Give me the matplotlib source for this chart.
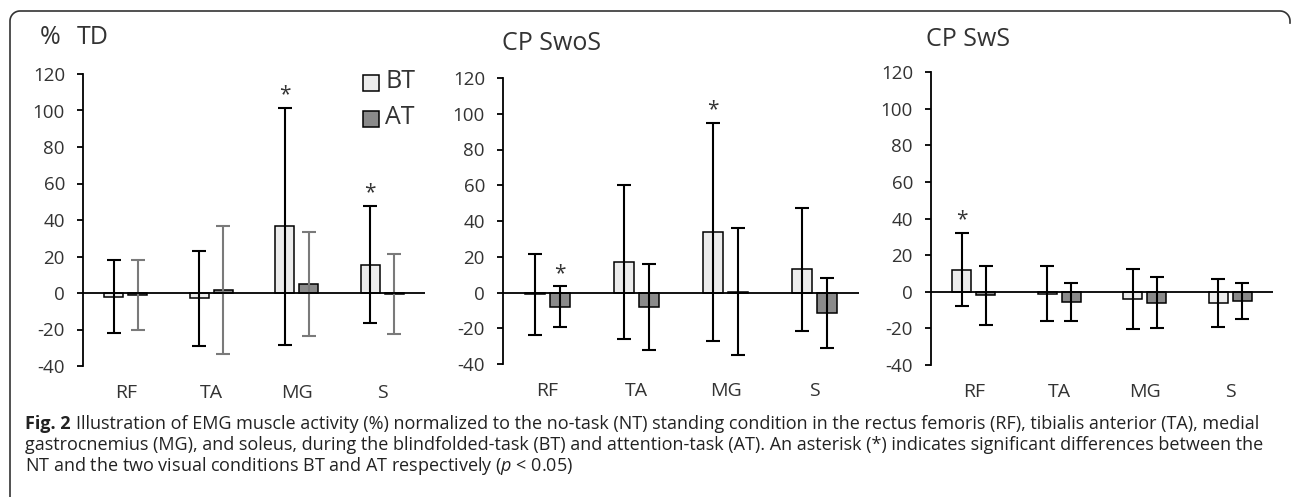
import numpy as np
import matplotlib
matplotlib.use("Agg")
import matplotlib.pyplot as plt
from matplotlib.lines import Line2D

plt.rcParams['font.family'] = ['Open Sans', 'DejaVu Sans']
plt.rcParams['axes.unicode_minus'] = False
plt.rcParams['mathtext.fontset'] = 'custom'
plt.rcParams['mathtext.rm'] = 'Open Sans'
plt.rcParams['mathtext.it'] = 'Open Sans:italic'

# Data (% of no-task condition)
muscles = ['RF', 'TA', 'MG', 'S']
panels = ['TD', 'CP SwoS', 'CP SwS']

td_bt = [-2, -3, 36.5, 15.5]
td_bt_sd = [20, 26, 65, 32]
td_at = [-1, 1.5, 5, -0.5]
td_at_sd = [19, 35, 28.5, 21.7]

swos_bt = [-1, 17, 34, 13]
swos_bt_sd = [22.8, 43, 61, 34.5]
swos_at = [-8, -8, 0.5, -11.5]
swos_at_sd = [11.4, 24, 35.5, 19.5]

sws_bt = [12, -1, -4, -6]
sws_bt_sd = [20, 15, 16.5, 13]
sws_at = [-2, -5.5, -6, -5]
sws_at_sd = [16, 10.5, 14, 10]

# significance markers: (panel index, series, muscle index)
stars = [(0, 'BT', 2), (0, 'BT', 3), (1, 'AT', 0), (1, 'BT', 2), (2, 'BT', 0)]

data = [(td_bt, td_bt_sd, td_at, td_at_sd),
        (swos_bt, swos_bt_sd, swos_at, swos_at_sd),
        (sws_bt, sws_bt_sd, sws_at, sws_at_sd)]

W, H = 1292, 497
fig = plt.figure(figsize=(W / 100, H / 100), dpi=100)

# axes boxes in pixels: left, right, y of 120, y of -40
boxes = [(83, 425, 74, 366), (503, 859, 78, 364), (931, 1273, 72, 365)]
title_pos = [(77, 38), (502, 43), (926, 40)]

bt_color = '#ececec'
at_color = '#8a8a8a'
txt = '#333333'
x = np.arange(len(muscles)) + 0.5
off = 0.14
bw = 0.22

for i, ax_box in enumerate(boxes):
    l, r, t, b = ax_box
    ax = fig.add_axes([l / W, 1 - b / H, (r - l) / W, (b - t) / H])
    bt, bt_sd, at, at_sd = data[i]
    ax.bar(x - off, bt, width=bw, color=bt_color, edgecolor='black', linewidth=1.1, zorder=2)
    ax.bar(x + off, at, width=bw, color=at_color, edgecolor='black', linewidth=1.1, zorder=2)
    ax.errorbar(x - off, bt, yerr=bt_sd, fmt='none', ecolor='black', elinewidth=1.5,
                capsize=5, capthick=1.5, zorder=3)
    at_err_color = '#7a7a7a' if i == 0 else 'black'
    ax.errorbar(x + off, at, yerr=at_sd, fmt='none', ecolor=at_err_color, elinewidth=1.5,
                capsize=5, capthick=1.5, zorder=3)
    ax.axhline(0, color='black', lw=1.3, zorder=4)

    for p, s, m in stars:
        if p != i:
            continue
        if s == 'BT':
            xs, top = x[m] - off, bt[m] + bt_sd[m]
        else:
            xs, top = x[m] + off, at[m] + at_sd[m]
        ax.text(xs, top + 1.5, '*', ha='center', va='bottom', fontsize=15, color=txt)

    ax.set_xlim(0, 4)
    ax.set_ylim(-40, 120)
    ax.set_yticks(range(-40, 121, 20))
    ax.set_xticks(x)
    ax.set_xticklabels(muscles)
    ax.tick_params(axis='x', length=0, pad=13, labelsize=14, labelcolor=txt)
    ax.tick_params(axis='y', length=4, width=1.3, direction='out', pad=9,
                   labelsize=13.5, labelcolor=txt)
    for sp in ['top', 'right', 'bottom']:
        ax.spines[sp].set_visible(False)
    ax.spines['left'].set_linewidth(1.3)
    ax.patch.set_alpha(0)

    tx, ty = title_pos[i]
    fig.text(tx / W, 1 - ty / H, panels[i], fontsize=18, color=txt, va='center', ha='left')

fig.text(40 / W, 1 - 38 / H, '%', fontsize=18, color=txt, va='center', ha='left')

# legend
fig.patches.append(plt.Rectangle((363 / W, 1 - 91 / H), 16 / W, 16 / H, transform=fig.transFigure,
                                 facecolor=bt_color, edgecolor='black', lw=1.1))
fig.patches.append(plt.Rectangle((363 / W, 1 - 127 / H), 16 / W, 16 / H, transform=fig.transFigure,
                                 facecolor=at_color, edgecolor='black', lw=1.1))
fig.text(385 / W, 1 - 82 / H, 'BT', fontsize=18, color=txt, va='center')
fig.text(385 / W, 1 - 118 / H, 'AT', fontsize=18, color=txt, va='center')

# rounded frame around the figure
rad = 10
lx, rx, ty_ = 10, 1290, 11
a1 = np.linspace(np.pi, np.pi / 2, 20)
a2 = np.linspace(np.pi / 2, 0, 20)
px = np.concatenate([[lx], lx + rad + rad * np.cos(a1), rx - rad + rad * np.cos(a2), [rx]])
py = np.concatenate([[H], ty_ + rad - rad * np.sin(a1), ty_ + rad - rad * np.sin(a2), [ty_ + rad + 2]])
fig.add_artist(Line2D(px / W, 1 - py / H, transform=fig.transFigure, color='#333333', lw=1.2))

# caption
cap_size = 13
renderer = fig.canvas.get_renderer()
bold = fig.text(25 / W, 1 - 424 / H, 'Fig. 2', fontsize=cap_size, fontweight='bold',
                color='#222222', va='center', ha='left')
bx = bold.get_window_extent(renderer).x1
fig.text(bx / W + 5 / W, 1 - 424 / H,
         'Illustration of EMG muscle activity (%) normalized to the no-task (NT) standing condition in the rectus femoris (RF), tibialis anterior (TA), medial',
         fontsize=cap_size, color='#222222', va='center', ha='left')
fig.text(25 / W, 1 - 445 / H,
         'gastrocnemius (MG), and soleus, during the blindfolded-task (BT) and attention-task (AT). An asterisk (*) indicates significant differences between the',
         fontsize=cap_size, color='#222222', va='center', ha='left')
fig.text(25 / W, 1 - 466 / H,
         r'NT and the two visual conditions BT and AT respectively ($p$ < 0.05)',
         fontsize=cap_size, color='#222222', va='center', ha='left')

fig.savefig('out.png', dpi=100)
